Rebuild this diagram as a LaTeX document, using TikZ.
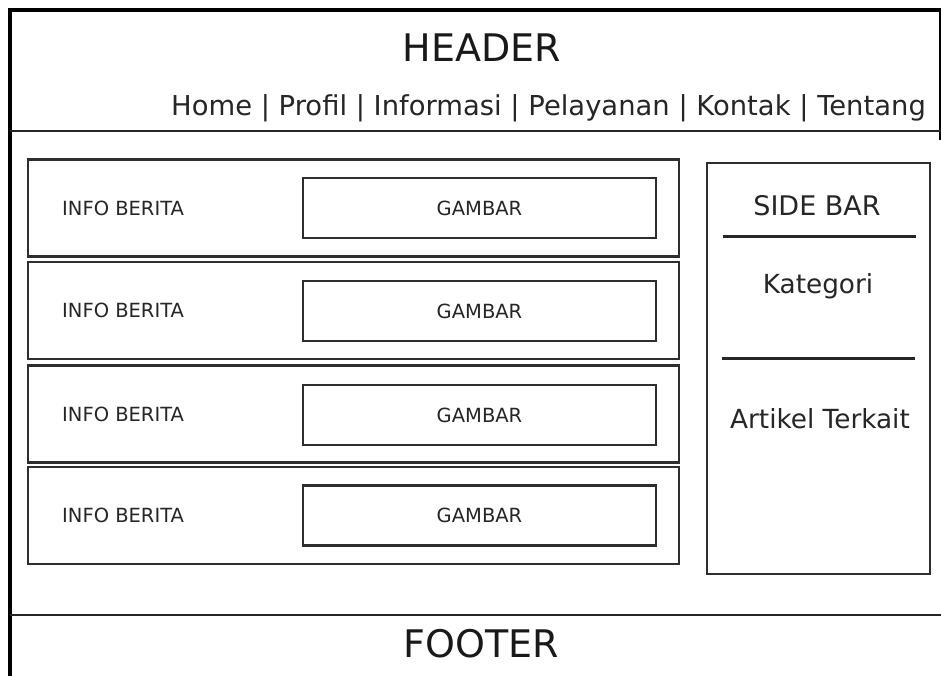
\documentclass[tikz,border=0pt]{standalone}
\usepackage{fontspec}
\setmainfont{DejaVu Sans}
\begin{document}
\begin{tikzpicture}[x=1pt,y=-1pt,
  frame/.style={draw=black, line width=3.2pt},
  divider/.style={draw=black!85, line width=2.8pt},
  rowbox/.style={draw=black!82, line width=2.7pt, minimum width=651pt, minimum height=97pt, inner sep=0pt},
  imgbox/.style={draw=black!82, line width=2.7pt, minimum width=353pt, minimum height=60pt, inner sep=0pt,
     font=\fontsize{19.5}{21}\selectfont, text=black!85},
  infotext/.style={inner sep=0pt, anchor=west, font=\fontsize{19.5}{21}\selectfont, text=black!85},
  bigtext/.style={inner sep=0pt, anchor=base, font=\fontsize{38}{40}\selectfont, text=black!90},
  midtext/.style={inner sep=0pt, anchor=base, font=\fontsize{27}{28}\selectfont, text=black!85},
  sidebox/.style={draw=black!82, line width=2.7pt, minimum width=223pt, minimum height=411pt, inner sep=0pt}]
\useasboundingbox (0,0) rectangle (941,675);
\clip (0,0) rectangle (941,675);
\fill[white] (0,0) rectangle (941,675);
% outer frame
\draw[frame] (10,700) -- (10,10) -- (941,10) -- (941,140);
\draw[divider] (10,131) -- (941,131);
\draw[divider] (10,615) -- (941,615);
% header / footer texts
\node[bigtext] (header) at (482,61) {HEADER};
\node[midtext, anchor=base west, font=\fontsize{27.4}{28}\selectfont] (nav) at (171,115) {Home | Profil | Informasi | Pelayanan | Kontak | Tentang};
\node[bigtext] (footer) at (481,657) {FOOTER};
% news rows
\foreach \i/\yc/\yi in {1/208/208, 2/310.5/311, 3/414/415, 4/515.5/515.5} {
  \node[rowbox] (row\i) at (353.5,\yc) {};
  \node[imgbox] (img\i) at (479.5,\yi) {GAMBAR};
  \node[infotext] (info\i) at (62,\yc) {INFO BERITA};
}
% side bar
\node[sidebox] (side) at (818.5,368.5) {};
\node[midtext] (sidetitle) at (817,215) {SIDE BAR};
\draw[divider] (722.5,236.5) -- (916,236.5);
\node[midtext, font=\fontsize{26.3}{28}\selectfont] (kategori) at (818,293) {Kategori};
\draw[divider] (721.5,358.5) -- (915,358.5);
\node[midtext, font=\fontsize{26.3}{28}\selectfont] (artikel) at (820,428.5) {Artikel Terkait};
\end{tikzpicture}
\end{document}
